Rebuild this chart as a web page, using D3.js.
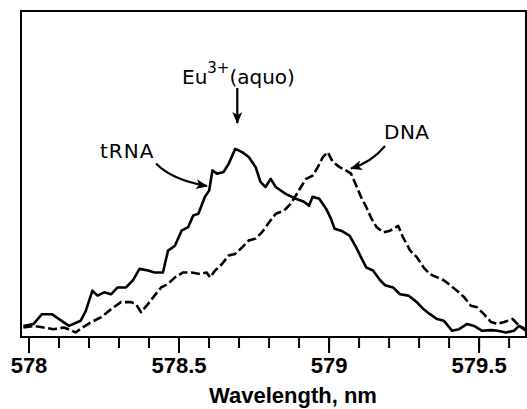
<!DOCTYPE html>
<html>
<head>
<meta charset="utf-8">
<script src="https://cdn.jsdelivr.net/npm/d3@7/dist/d3.min.js"></script>
<style>
  html, body { margin: 0; padding: 0; background: #fff; }
  svg { display: block; }
</style>
</head>
<body>
<svg id="chart" width="527" height="409"></svg>
<script>
// ---- Data ----
const majorTicks = [578, 578.5, 579, 579.5];
const tickLabels = ["578", "578.5", "579", "579.5"];
const minorTicks = [578.0, 578.1, 578.2, 578.3, 578.4, 578.5, 578.6, 578.7, 578.8, 578.9,
                    579.0, 579.1, 579.2, 579.3, 579.4, 579.5, 579.6];

const trnaWavelength = [577.983, 578.017, 578.045, 578.078, 578.102, 578.135, 578.174, 578.191, 578.213, 578.230,
  578.252, 578.275, 578.297, 578.325, 578.348, 578.370, 578.398, 578.420, 578.448, 578.465,
  578.488, 578.510, 578.532, 578.549, 578.566, 578.588, 578.602, 578.613, 578.628, 578.650,
  578.667, 578.689, 578.712, 578.734, 578.757, 578.773, 578.790, 578.807, 578.824, 578.857,
  578.891, 578.918, 578.935, 578.947, 578.969, 578.992, 579.008, 579.020, 579.042, 579.070,
  579.092, 579.108, 579.126, 579.148, 579.172, 579.188, 579.215, 579.238, 579.266, 579.294,
  579.317, 579.338, 579.362, 579.384, 579.412, 579.435, 579.462, 579.485, 579.512, 579.541,
  579.563, 579.592, 579.618, 579.635, 579.658];
const trnaIntensity = [3.4, 4.0, 7.0, 7.0, 5.5, 3.4, 5.0, 8.0, 14.2, 12.7,
  13.7, 13.1, 15.2, 15.2, 17.4, 20.9, 20.4, 19.8, 19.8, 26.5,
  28.0, 32.6, 33.7, 37.3, 37.8, 43.0, 44.9, 51.1, 50.1, 50.6,
  53.1, 57.7, 56.7, 55.2, 52.1, 47.6, 46.0, 48.5, 46.0, 43.9,
  42.4, 41.5, 40.3, 43.0, 42.4, 39.3, 36.3, 33.2, 32.6, 31.1,
  27.5, 24.5, 21.3, 20.4, 17.4, 15.9, 15.2, 13.1, 12.7, 10.7,
  8.5, 7.0, 5.5, 5.0, 1.9, 2.4, 4.0, 3.4, 1.9, 2.1,
  1.9, 1.4, 1.9, 3.4, 2.4];

const dnaWavelength = [577.983, 578.017, 578.051, 578.084, 578.118, 578.146, 578.157, 578.180, 578.208, 578.241,
  578.275, 578.308, 578.342, 578.358, 578.375, 578.398, 578.420, 578.442, 578.465, 578.488,
  578.515, 578.544, 578.572, 578.594, 578.605, 578.622, 578.645, 578.667, 578.689, 578.712,
  578.734, 578.757, 578.778, 578.802, 578.824, 578.852, 578.874, 578.891, 578.908, 578.925,
  578.947, 578.964, 578.981, 578.997, 579.014, 579.037, 579.058, 579.075, 579.092, 579.108,
  579.126, 579.143, 579.160, 579.182, 579.205, 579.232, 579.248, 579.272, 579.294, 579.317,
  579.338, 579.362, 579.384, 579.405, 579.428, 579.452, 579.474, 579.495, 579.518, 579.541,
  579.563, 579.585, 579.614, 579.635, 579.658];
const dnaIntensity = [2.9, 3.4, 2.9, 2.4, 2.9, 1.9, 1.4, 2.9, 4.5, 6.0,
  8.5, 10.7, 10.7, 10.1, 7.6, 10.1, 12.7, 15.2, 16.3, 18.3,
  19.8, 19.8, 19.3, 19.8, 18.3, 20.4, 22.4, 25.0, 25.5, 27.5,
  29.6, 30.2, 32.1, 35.2, 37.8, 38.8, 40.9, 43.4, 46.0, 48.5,
  49.5, 52.1, 55.2, 56.7, 53.7, 52.1, 51.1, 50.1, 46.5, 43.0,
  39.8, 36.3, 33.7, 32.1, 32.6, 34.1, 30.6, 26.5, 24.5, 21.3,
  19.3, 18.3, 17.4, 15.9, 14.2, 12.2, 9.6, 9.1, 7.0, 4.6,
  4.0, 4.6, 5.5, 3.4, 1.9];

const seriesLabels = ["tRNA", "DNA"];
const xTitle = "Wavelength, nm";

// ---- Layout ----
const svg = d3.select("#chart");
const plotLeft = 21, plotRight = 526, plotTop = 11, plotBottom = 337;

const x = d3.scaleLinear().domain([577.975, 579.658]).range([plotLeft, plotRight]);
const y = d3.scaleLinear().domain([0, 100]).range([plotBottom, plotTop]);

// arrow marker
const defs = svg.append("defs");
defs.append("marker")
  .attr("id", "arrow")
  .attr("viewBox", "0 0 12 10")
  .attr("refX", 11).attr("refY", 5)
  .attr("markerWidth", 12).attr("markerHeight", 10)
  .attr("markerUnits", "userSpaceOnUse")
  .attr("orient", "auto")
  .append("path")
  .attr("d", "M0,0 L12,5 L0,10 L3,5 Z")
  .attr("fill", "#000");

// frame
svg.append("rect")
  .attr("x", plotLeft).attr("y", plotTop)
  .attr("width", plotRight - plotLeft).attr("height", plotBottom - plotTop)
  .attr("fill", "none").attr("stroke", "#000").attr("stroke-width", 2);

// minor ticks
const minorAxis = d3.axisBottom(x).tickValues(minorTicks).tickSize(11).tickFormat("");
const gMinor = svg.append("g").attr("transform", `translate(0,${plotBottom})`).call(minorAxis);
gMinor.select(".domain").remove();
gMinor.selectAll("line").attr("stroke", "#000").attr("stroke-width", 2);

// major ticks with labels
const majorAxis = d3.axisBottom(x).tickValues(majorTicks).tickSize(16)
  .tickFormat((d, i) => tickLabels[i]);
const gMajor = svg.append("g").attr("transform", `translate(0,${plotBottom})`).call(majorAxis);
gMajor.select(".domain").remove();
gMajor.selectAll("line").attr("stroke", "#000").attr("stroke-width", 2);
gMajor.selectAll("text")
  .attr("y", 35.5).attr("dy", 0)
  .attr("fill", "#000")
  .style("font-family", "'Liberation Sans', Arial, sans-serif")
  .style("font-weight", "bold")
  .style("font-size", "22px");

// x axis title
svg.append("text")
  .attr("x", 293).attr("y", 403)
  .attr("text-anchor", "middle")
  .style("font-family", "'Liberation Sans', Arial, sans-serif")
  .style("font-weight", "bold")
  .style("font-size", "22px")
  .text(xTitle);

// curves
const line = d3.line().x(d => x(d[0])).y(d => y(d[1]));
const trna = trnaWavelength.map((w, i) => [w, trnaIntensity[i]]);
const dna = dnaWavelength.map((w, i) => [w, dnaIntensity[i]]);

const clip = defs.append("clipPath").attr("id", "plotclip");
clip.append("rect").attr("x", plotLeft).attr("y", plotTop)
  .attr("width", plotRight - plotLeft).attr("height", plotBottom - plotTop);

svg.append("path").datum(dna)
  .attr("clip-path", "url(#plotclip)")
  .attr("d", line)
  .attr("fill", "none").attr("stroke", "#000")
  .attr("stroke-width", 2.6)
  .attr("stroke-dasharray", "9,3.5")
  .attr("stroke-linejoin", "round");

svg.append("path").datum(trna)
  .attr("clip-path", "url(#plotclip)")
  .attr("d", line)
  .attr("fill", "none").attr("stroke", "#000")
  .attr("stroke-width", 2.6)
  .attr("stroke-linejoin", "round");

// annotations
const annFont = "'DejaVu Sans', sans-serif";
svg.append("text")
  .attr("x", 100).attr("y", 157.5)
  .style("font-family", annFont).style("font-size", "20px")
  .style("letter-spacing", "1px")
  .text(seriesLabels[0]);

svg.append("text")
  .attr("x", 384).attr("y", 138.5)
  .style("font-family", annFont).style("font-size", "20px")
  .style("letter-spacing", "0.5px")
  .text(seriesLabels[1]);

const eu = svg.append("text")
  .attr("x", 182).attr("y", 83.5)
  .style("font-family", annFont).style("font-size", "20px");
eu.append("tspan").text("Eu");
eu.append("tspan").attr("dy", -11).style("font-size", "15px").text("3+");
eu.append("tspan").attr("dy", 11).text("(aquo)");

// arrows
svg.append("path")
  .attr("d", "M237.3,88 L237.3,123")
  .attr("fill", "none").attr("stroke", "#000").attr("stroke-width", 2.2)
  .attr("marker-end", "url(#arrow)");

svg.append("path")
  .attr("d", "M156,163.5 Q172,180 207,186")
  .attr("fill", "none").attr("stroke", "#000").attr("stroke-width", 2.2)
  .attr("marker-end", "url(#arrow)");

svg.append("path")
  .attr("d", "M385,146 Q372,162 351,168.5")
  .attr("fill", "none").attr("stroke", "#000").attr("stroke-width", 2.2)
  .attr("marker-end", "url(#arrow)");
</script>
</body>
</html>
